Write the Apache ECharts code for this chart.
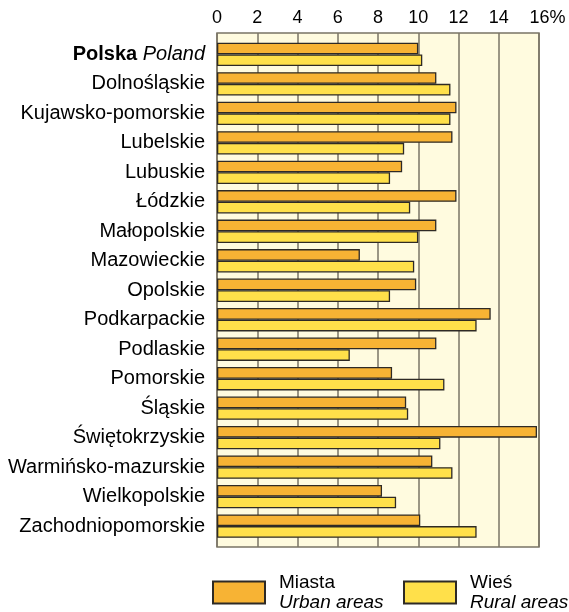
<!DOCTYPE html>
<html>
<head>
<meta charset="utf-8">
<script src="https://cdn.jsdelivr.net/npm/echarts@6/dist/echarts.min.js"></script>
<style>html,body{margin:0;padding:0;background:#fff;}#c{width:569px;height:612px;}</style>
</head>
<body>
<div id="c"></div>
<script>
const categories = ['Polska Poland', 'Dolnośląskie', 'Kujawsko-pomorskie', 'Lubelskie', 'Lubuskie', 'Łódzkie', 'Małopolskie', 'Mazowieckie', 'Opolskie', 'Podkarpackie', 'Podlaskie', 'Pomorskie', 'Śląskie', 'Świętokrzyskie', 'Warmińsko-mazurskie', 'Wielkopolskie', 'Zachodniopomorskie'];
const urban = [10.0, 10.9, 11.9, 11.7, 9.2, 11.9, 10.9, 7.1, 9.9, 13.6, 10.9, 8.7, 9.4, 15.9, 10.7, 8.2, 10.1];
const rural = [10.2, 11.6, 11.6, 9.3, 8.6, 9.6, 10.0, 9.8, 8.6, 12.9, 6.6, 11.3, 9.5, 11.1, 11.7, 8.9, 12.9];
const seriesNames = ['Miasta', 'Wieś'];
const seriesNamesEn = ['Urban areas', 'Rural areas'];
const xMin = 0, xMax = 16, xStep = 2, xUnit = '%';

const FONT = '"Liberation Sans", Arial, Helvetica, sans-serif';
const chart = echarts.init(document.getElementById('c'), null, {renderer: 'canvas'});
const legendFmt = name => '{a|' + name + '}\n{b|' + seriesNamesEn[seriesNames.indexOf(name)] + '}';
const legendText = {
  fontFamily: FONT, padding: [0, 0, 0, 9],
  rich: {
    a: {fontSize: 19, lineHeight: 20, color: '#000', fontFamily: FONT},
    b: {fontSize: 19, lineHeight: 20, color: '#000', fontStyle: 'italic', fontFamily: FONT}
  }
};
chart.setOption({
  animation: false,
  backgroundColor: '#fff',
  textStyle: {fontFamily: FONT},
  grid: [
    {left: 217, right: 30, top: 33, height: 514, show: true, backgroundColor: '#fffbdf', borderColor: '#7a7466', borderWidth: 1.5, containLabel: false},
    {left: 217, right: 30, top: 39.65, height: 501.2, show: false, containLabel: false}
  ],
  xAxis: [
    {gridIndex: 0, type: 'value', position: 'top', min: xMin, max: xMax, interval: xStep,
     axisLine: {show: false}, axisTick: {show: false},
     splitLine: {show: true, lineStyle: {color: '#7a7466', width: 1.5}},
     axisLabel: {fontSize: 18, color: '#000', margin: 6, fontFamily: FONT,
       formatter: v => v === xMax ? '{p|' + v + xUnit + '}' : String(v),
       rich: {p: {fontSize: 18, color: '#000', padding: [0, 0, 0, 17], fontFamily: FONT}}}},
    {gridIndex: 1, type: 'value', min: xMin, max: xMax, show: false}
  ],
  yAxis: [
    {gridIndex: 0, type: 'value', min: 0, max: 1, show: false},
    {gridIndex: 1, type: 'category', inverse: true, data: categories,
     axisLine: {show: false}, axisTick: {show: false}, splitLine: {show: false},
     axisLabel: {fontSize: 20, color: '#000', margin: 12, fontFamily: FONT,
       formatter: v => v === categories[0] ? '{b|Polska} {i|Poland}' : v,
       rich: {
         b: {fontSize: 20, fontWeight: 'bold', color: '#000', fontFamily: FONT},
         i: {fontSize: 20, fontStyle: 'italic', color: '#000', fontFamily: FONT}
       }}}
  ],
  legend: [
    {data: [{name: seriesNames[0], icon: 'rect'}], left: 212, top: 573, padding: 0, itemWidth: 52, itemHeight: 22, selectedMode: false, formatter: legendFmt, textStyle: legendText},
    {data: [{name: seriesNames[1], icon: 'rect'}], left: 403, top: 573, padding: 0, itemWidth: 52, itemHeight: 22, selectedMode: false, formatter: legendFmt, textStyle: legendText}
  ],
  series: [
    {name: seriesNames[0], type: 'bar', xAxisIndex: 1, yAxisIndex: 1, data: urban,
     barGap: '0%', barCategoryGap: '20.7%',
     itemStyle: {color: '#f7b334', borderColor: '#2e2a25', borderWidth: 1.3}},
    {name: seriesNames[1], type: 'bar', xAxisIndex: 1, yAxisIndex: 1, data: rural,
     barGap: '0%', barCategoryGap: '20.7%',
     itemStyle: {color: '#ffe04a', borderColor: '#2e2a25', borderWidth: 1.3}}
  ]
});
</script>
</body>
</html>
